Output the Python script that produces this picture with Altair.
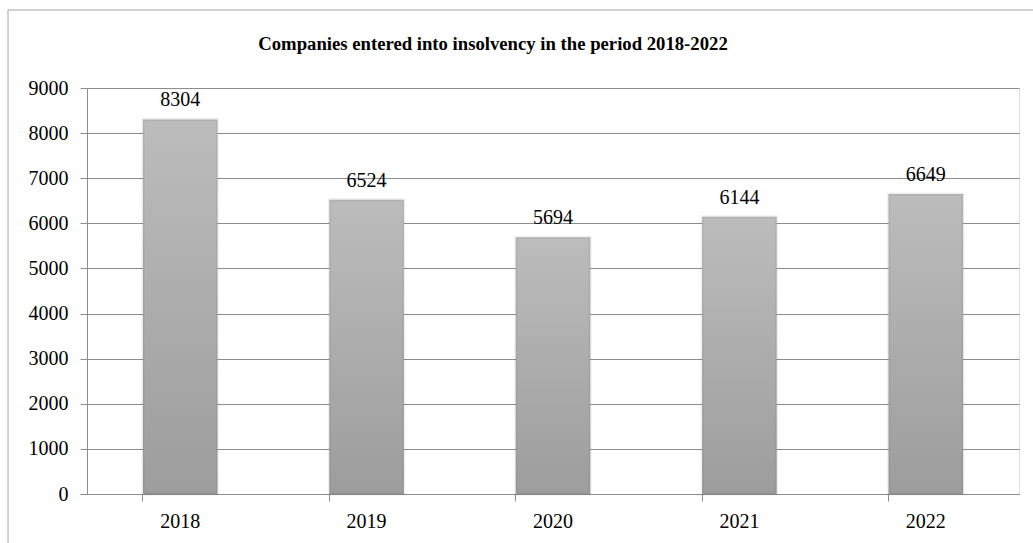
import altair as alt
import pandas as pd

years = ["2018", "2019", "2020", "2021", "2022"]
companies = [8304, 6524, 5694, 6144, 6649]
y_ticks = [0, 1000, 2000, 3000, 4000, 5000, 6000, 7000, 8000, 9000]
title_text = "Companies entered into insolvency in the period 2018-2022"

df = pd.DataFrame({"year": years, "value": companies})

FONT = "'Liberation Serif', 'Times New Roman', 'DejaVu Serif', serif"
W, H = 932, 406
FS = 20

x_enc = alt.X("year:N", sort=years, title=None,
              scale=alt.Scale(paddingInner=0.6, paddingOuter=0.3),
              axis=alt.Axis(labelAngle=0, bandPosition=0, ticks=True, tickSize=7,
                            labelPadding=10, labelFontSize=FS, labelFont=FONT,
                            labelColor="#000000", domainColor="#8c8c8c",
                            tickColor="#8c8c8c", grid=False))
y_enc = alt.Y("value:Q", title=None,
              scale=alt.Scale(domain=[0, 9000], nice=False),
              axis=alt.Axis(values=y_ticks, format="d", tickSize=7, labelPadding=12,
                            labelFontSize=FS, labelFont=FONT, labelColor="#000000",
                            domainColor="#8c8c8c", tickColor="#8c8c8c",
                            gridColor="#8c8c8c", gridWidth=1, grid=True))

base = alt.Chart(df)

bars = base.mark_bar(
    color=alt.Gradient(
        gradient="linear", x1=0, y1=0, x2=0, y2=1,
        stops=[alt.GradientStop(color="#bcbcbc", offset=0),
               alt.GradientStop(color="#9d9d9d", offset=1)]),
    stroke="#000000", strokeOpacity=0.06, strokeWidth=3,
).encode(x=x_enc, y=y_enc)

labels = base.mark_text(font=FONT, fontSize=FS, color="#000000", dy=-13,
                        baseline="alphabetic").encode(
    x=alt.X("year:N", sort=years), y="value:Q", text="value:Q")

title = alt.Chart(pd.DataFrame({"t": [title_text]})).mark_text(
    font=FONT, fontSize=18.7, fontWeight="bold", color="#000000",
    align="center", baseline="alphabetic").encode(
    x=alt.value(406), y=alt.value(-38), text="t:N")

border_top = alt.Chart(pd.DataFrame({"a": [0]})).mark_rule(
    color="#a6a6a6", strokeWidth=1).encode(
    x=alt.value(-79), x2=alt.value(W + 30), y=alt.value(-78))
border_left = alt.Chart(pd.DataFrame({"a": [0]})).mark_rule(
    color="#a6a6a6", strokeWidth=1).encode(
    x=alt.value(-79), y=alt.value(-78), y2=alt.value(H + 60))

chart = alt.layer(bars, labels, title, border_top, border_left).properties(
    width=W, height=H,
    autosize=alt.AutoSizeParams(type="none"),
    padding={"left": 87, "top": 88, "right": 14, "bottom": 49},
).configure_view(stroke=None).configure(background="#ffffff")

chart.save("out.html", embed_options={"renderer": "svg", "actions": False})
